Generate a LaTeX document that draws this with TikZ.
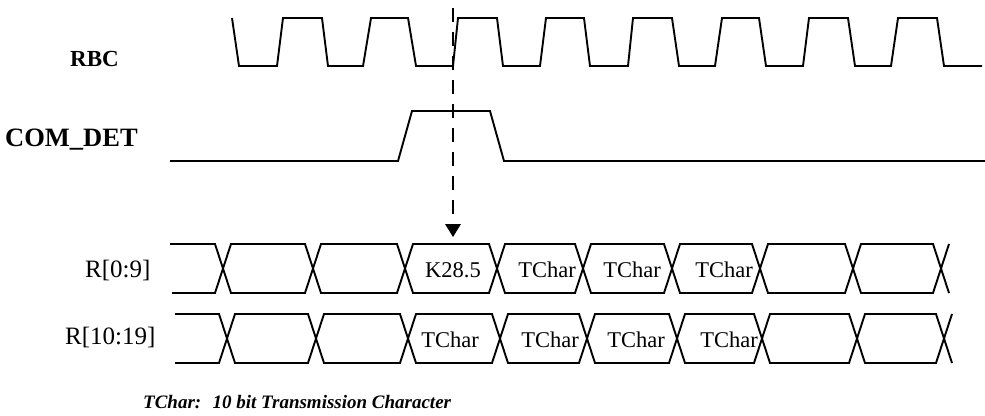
\documentclass[tikz,border=0pt]{standalone}
\usepackage{fontspec}
\setmainfont{Liberation Serif}
\begin{document}
\begin{tikzpicture}[x=1pt,y=-1pt,
  wave/.style={line width=1.9pt,line join=miter},
  lbl/.style={anchor=base west,inner sep=0pt,font=\fontsize{23}{26}\selectfont\bfseries},
  buslbl/.style={anchor=base west,inner sep=0pt,font=\fontsize{25}{28}\selectfont},
  cell/.style={inner sep=0pt,font=\fontsize{22.5}{26}\selectfont},
  note/.style={anchor=base west,inner sep=0pt,font=\fontsize{19}{22}\selectfont\bfseries\itshape}]
\useasboundingbox (0,0) rectangle (985,415);
% labels
\node[lbl] (rbc) at (70,66) {RBC};
\node[lbl,font=\fontsize{26.5}{30}\selectfont\bfseries] (comdet) at (5,146) {COM\_DET};
\node[buslbl] (r09) at (85,277) {R[0:9]};
\node[buslbl] (r1019) at (65,344) {R[10:19]};
% RBC clock
\draw[wave] (232,18) -- (239,66) -- (277,66) -- (283,18) -- (322,18) -- (328,66)
  -- (363,66) -- (371,18) -- (408,18) -- (416,66) -- (453,66) -- (458,18)
  -- (497,18) -- (503,66) -- (540,66) -- (546,18) -- (584,18) -- (590,66)
  -- (628,66) -- (633,18) -- (672,18) -- (679,66) -- (715,66) -- (722,18)
  -- (759,18) -- (766,66) -- (803,66) -- (809,18) -- (848,18) -- (855,66)
  -- (891,66) -- (898,18) -- (937,18) -- (944,66) -- (982,66);
% COM_DET
\draw[wave] (170,161) -- (398,161) -- (412,111) -- (490,111) -- (504,161) -- (985,161);
% dashed marker with arrow
\coordinate (dtop) at (453,8);
\coordinate (dbot) at (453,226);
\draw[line width=1.6pt,dash pattern=on 14pt off 10pt] (dtop) -- (dbot);
\fill (445,224) -- (461,224) -- (453,237) -- cycle;
% R[0:9] bus
\def\h{8}
\def\T{244}\def\B{293}\def\M{268.5}
\draw[wave] (170,\T) -- (223-\h,\T) -- (223,\M) -- (223-\h,\B) -- (172,\B);
\foreach \a/\b in {223/313,313/405,405/497,497/583,583/672,672/760,760/853,853/941}
  \draw[wave] (\a,\M) -- (\a+\h,\T) -- (\b-\h,\T) -- (\b,\M) -- (\b-\h,\B) -- (\a+\h,\B) -- cycle;
\draw[wave] (941+\h,\T) -- (941,\M) -- (941+\h,\B);
% R[10:19] bus
\def\T{314}\def\B{363}\def\M{338.5}
\draw[wave] (175,\T) -- (227-\h,\T) -- (227,\M) -- (227-\h,\B) -- (175,\B);
\foreach \a/\b in {227/316,316/408,408/500,500/587,587/677,677/762,762/857,857/944}
  \draw[wave] (\a,\M) -- (\a+\h,\T) -- (\b-\h,\T) -- (\b,\M) -- (\b-\h,\B) -- (\a+\h,\B) -- cycle;
\draw[wave] (944+\h,\T) -- (944,\M) -- (944+\h,\B);
% cell texts
\node[cell] (k285) at (453,270) {K28.5};
\node[cell] (ta1) at (547,270) {TChar};
\node[cell] (ta2) at (632,270) {TChar};
\node[cell] (ta3) at (724,270) {TChar};
\node[cell] (tb1) at (450,340) {TChar};
\node[cell] (tb2) at (550,340) {TChar};
\node[cell] (tb3) at (636,340) {TChar};
\node[cell] (tb4) at (729,340) {TChar};
% footnote
\node[note] (fn) at (143,408) {TChar:\hspace{0.6em}10 bit Transmission Character};
\end{tikzpicture}
\end{document}
